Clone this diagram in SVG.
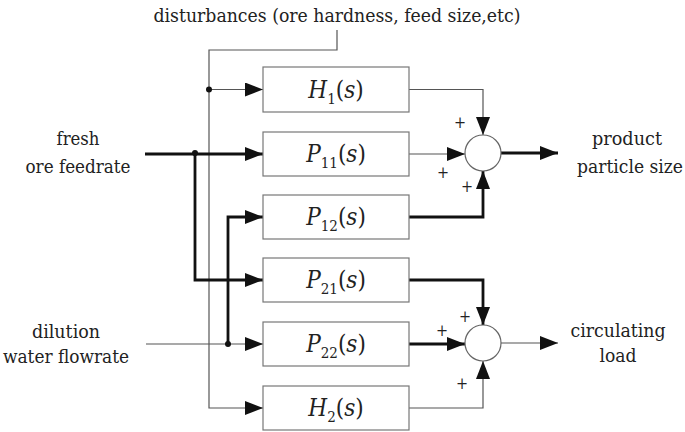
<svg xmlns="http://www.w3.org/2000/svg" width="685" height="432" viewBox="0 0 685 432">
<defs>
<marker id="ah" markerUnits="userSpaceOnUse" markerWidth="18" markerHeight="14" refX="18" refY="7" orient="auto">
<path d="M0,0 L18,7 L0,14 Z" fill="#111"/>
</marker>
</defs>
<style>
text{font-family:'DejaVu Serif Condensed','DejaVu Serif',serif;fill:#222;text-anchor:middle}
.lbl{font-size:18px}
.tf{font-size:24px}
.it{font-style:italic}
.sub{font-size:15px}
.box{fill:#fff;stroke:#777;stroke-width:1.2}
.thin{fill:none;stroke:#555;stroke-width:1.2}
.thick{fill:none;stroke:#111;stroke-width:2.8}
.sum{fill:#fff;stroke:#666;stroke-width:1.2}
.plus{font-size:16px}
</style>
<rect width="685" height="432" fill="#fff"/>

<g id="labels">
<text class="lbl" x="337" y="22" textLength="367" lengthAdjust="spacingAndGlyphs">disturbances (ore hardness, feed size,etc)</text>
<text class="lbl" x="78" y="145" textLength="43" lengthAdjust="spacingAndGlyphs">fresh</text>
<text class="lbl" x="78" y="173" textLength="105" lengthAdjust="spacingAndGlyphs">ore feedrate</text>
<text class="lbl" x="66" y="338" textLength="68" lengthAdjust="spacingAndGlyphs">dilution</text>
<text class="lbl" x="66" y="363" textLength="126" lengthAdjust="spacingAndGlyphs">water flowrate</text>
<text class="lbl" x="627" y="145" textLength="70" lengthAdjust="spacingAndGlyphs">product</text>
<text class="lbl" x="630" y="173" textLength="106" lengthAdjust="spacingAndGlyphs">particle size</text>
<text class="lbl" x="618" y="337" textLength="95" lengthAdjust="spacingAndGlyphs">circulating</text>
<text class="lbl" x="618" y="362" textLength="37" lengthAdjust="spacingAndGlyphs">load</text>
</g>

<g id="connectors">
<polyline class="thin" points="337,30 337,50 209,50 209,408 263,408" marker-end="url(#ah)"/>
<line class="thin" x1="209" y1="89.5" x2="263" y2="89.5" marker-end="url(#ah)"/>
<line class="thick" x1="145" y1="154" x2="263" y2="154" marker-end="url(#ah)"/>
<polyline class="thick" points="195,154 195,280 263,280" marker-end="url(#ah)"/>
<line class="thin" x1="146" y1="344" x2="263" y2="344" marker-end="url(#ah)"/>
<polyline class="thick" points="228,344 228,217 263,217" marker-end="url(#ah)"/>
<polyline class="thin" points="409,89.5 483,89.5 483,135" marker-end="url(#ah)"/>
<line class="thin" x1="409" y1="154" x2="465" y2="154" marker-end="url(#ah)"/>
<polyline class="thick" points="409,217 483,217 483,171" marker-end="url(#ah)"/>
<line class="thick" x1="501" y1="153" x2="558" y2="153" marker-end="url(#ah)"/>
<polyline class="thick" points="409,280 483,280 483,325" marker-end="url(#ah)"/>
<line class="thick" x1="409" y1="344" x2="465" y2="344" marker-end="url(#ah)"/>
<polyline class="thin" points="409,408 483,408 483,361" marker-end="url(#ah)"/>
<line class="thin" x1="501" y1="343" x2="558" y2="343" stroke-width="1.6" marker-end="url(#ah)"/>
<circle cx="209" cy="89.5" r="3" fill="#111"/>
<circle cx="195" cy="153" r="3" fill="#111"/>
<circle cx="228" cy="344" r="3" fill="#111"/>
</g>

<g id="H1"><rect class="box" x="263" y="67" width="146" height="45"/>
<text class="tf" x="336" y="98"><tspan class="it">H</tspan><tspan class="sub" dy="6">1</tspan><tspan dy="-6">(</tspan><tspan class="it">s</tspan>)</text></g>
<g id="P11"><rect class="box" x="263" y="132" width="146" height="44"/>
<text class="tf" x="336" y="162"><tspan class="it">P</tspan><tspan class="sub" dy="6">11</tspan><tspan dy="-6">(</tspan><tspan class="it">s</tspan>)</text></g>
<g id="P12"><rect class="box" x="263" y="195" width="146" height="44"/>
<text class="tf" x="336" y="225"><tspan class="it">P</tspan><tspan class="sub" dy="6">12</tspan><tspan dy="-6">(</tspan><tspan class="it">s</tspan>)</text></g>
<g id="P21"><rect class="box" x="263" y="258" width="146" height="44"/>
<text class="tf" x="336" y="288"><tspan class="it">P</tspan><tspan class="sub" dy="6">21</tspan><tspan dy="-6">(</tspan><tspan class="it">s</tspan>)</text></g>
<g id="P22"><rect class="box" x="263" y="322" width="146" height="44"/>
<text class="tf" x="336" y="352"><tspan class="it">P</tspan><tspan class="sub" dy="6">22</tspan><tspan dy="-6">(</tspan><tspan class="it">s</tspan>)</text></g>
<g id="H2"><rect class="box" x="263" y="386" width="146" height="44"/>
<text class="tf" x="336" y="416"><tspan class="it">H</tspan><tspan class="sub" dy="6">2</tspan><tspan dy="-6">(</tspan><tspan class="it">s</tspan>)</text></g>

<g id="sum1"><circle class="sum" cx="483" cy="153" r="18"/>
<text class="plus" x="460" y="128">+</text>
<text class="plus" x="443" y="178">+</text>
<text class="plus" x="467" y="191.5">+</text></g>
<g id="sum2"><circle class="sum" cx="483" cy="343" r="18"/>
<text class="plus" x="465" y="321.5">+</text>
<text class="plus" x="442" y="335.5">+</text>
<text class="plus" x="462" y="388.5">+</text></g>
</svg>
